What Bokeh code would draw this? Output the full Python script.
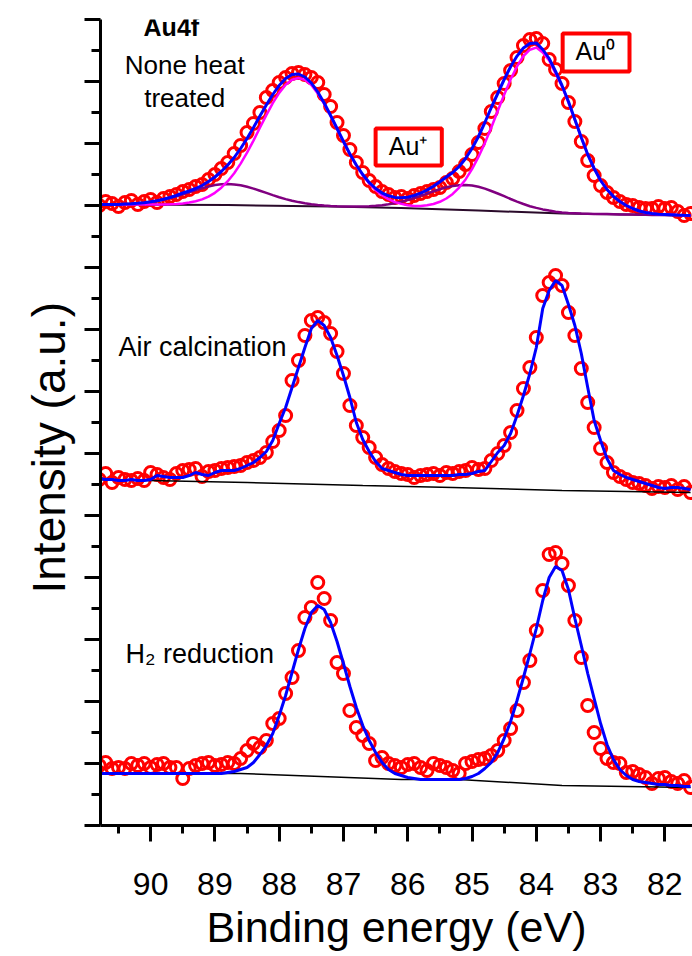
from bokeh.plotting import figure
from bokeh.models import Range1d, FixedTicker, Label, BoxAnnotation, Title
from bokeh.embed import file_html
from bokeh.resources import INLINE

# Binding energy grid (eV)
be = [90.8, 90.7, 90.6, 90.5, 90.4, 90.3, 90.2, 90.1, 90.0, 89.9,
      89.8, 89.7, 89.6, 89.5, 89.4, 89.3, 89.2, 89.1, 89.0, 88.9,
      88.8, 88.7, 88.6, 88.5, 88.4, 88.3, 88.2, 88.1, 88.0, 87.9,
      87.8, 87.7, 87.6, 87.5, 87.4, 87.3, 87.2, 87.1, 87.0, 86.9,
      86.8, 86.7, 86.6, 86.5, 86.4, 86.3, 86.2, 86.1, 86.0, 85.9,
      85.8, 85.7, 85.6, 85.5, 85.4, 85.3, 85.2, 85.1, 85.0, 84.9,
      84.8, 84.7, 84.6, 84.5, 84.4, 84.3, 84.2, 84.1, 84.0, 83.9,
      83.8, 83.7, 83.6, 83.5, 83.4, 83.3, 83.2, 83.1, 83.0, 82.9,
      82.8, 82.7, 82.6, 82.5, 82.4, 82.3, 82.2, 82.1, 82.0, 81.9,
      81.8, 81.7, 81.6]

# --- None heat treated (top, stacked intensity, a.u.) ---
none_data = [620, 624, 622, 619, 623, 625, 621, 624, 626, 623,
             627, 629, 631, 634, 636, 639, 641, 646, 651, 657,
             663, 672, 680, 693, 702, 713, 728, 735, 743, 748,
             752, 753, 751, 748, 743, 731, 719, 703, 690, 676,
             663, 653, 645, 639, 634, 631, 628, 629, 627, 630,
             632, 634, 636, 638, 643, 647, 654, 661, 671, 683,
             697, 714, 728, 742, 755, 768, 780, 786, 787, 782,
             766, 756, 742, 723, 704, 684, 665, 650, 640, 633,
             628, 624, 621, 620, 618, 617, 617, 619, 617, 618,
             614, 610, 612]
none_fit = [621, 621, 621, 621, 621.5, 621.7, 622.2, 622.8, 623.7, 624.8,
            626.2, 628, 630, 632.5, 634.5, 637, 640, 644, 648.5, 654,
            660.5, 668, 677, 687, 698, 709.5, 720.5, 731, 740, 747,
            751, 751.5, 748.5, 742.5, 733.5, 722.5, 710, 697, 684, 671.5,
            660.5, 651, 643, 637, 632.5, 629.7, 628.1, 627.8, 628.3, 630,
            632.3, 635.4, 639.2, 643.7, 648.5, 653, 659, 667, 677, 689,
            703, 718, 732, 746, 758.7, 769.4, 777.6, 782, 782.6, 776,
            767, 754, 740, 724, 706, 688, 671, 657, 645, 636,
            629, 624, 620, 617, 614.5, 613, 612, 611.3, 611, 610.7,
            610.4, 610.2, 610.1]
none_au0 = [621, 621, 621, 621, 621, 621, 621, 621, 621, 621,
            621, 621.2, 621.5, 622, 623, 624.3, 626.1, 628.9, 632.7, 637.8,
            644.3, 652.3, 661.9, 672.8, 684.9, 697.7, 710.4, 722.3, 732.6, 740.7,
            745.8, 747.5, 745.6, 740.4, 732.1, 721.6, 709.5, 696.6, 683.5, 671.2,
            660.1, 650.3, 642, 635.4, 630.2, 626.3, 623.4, 621.6, 620.2, 619.6,
            619.6, 620.2, 621.5, 623.7, 627, 631.6, 637.9, 646.1, 656.3, 668.6,
            682.6, 698, 714.5, 730.8, 746, 759.1, 769.5, 775.8, 777.9, 773,
            765, 752, 739, 723, 705.5, 688, 671, 657, 645, 636,
            629, 624, 620, 617, 614.5, 613, 612, 611.3, 611, 610.7,
            610.4, 610.2, 610.1]
none_au1 = [621, 621, 621, 621.3, 621.5, 621.7, 622.2, 622.8, 623.6, 624.6,
            625.9, 627.5, 629.2, 631.2, 633.3, 635.4, 637.3, 639, 640.4, 641.2,
            641.5, 641.1, 640.2, 638.7, 636.9, 634.8, 632.6, 630.4, 628.3, 626.4,
            624.8, 623.4, 622.2, 621.3, 620.6, 620, 619.6, 619.3, 619.1, 618.9,
            619, 619.1, 619.3, 619.7, 620.3, 621.2, 622.3, 623.7, 625.4, 627.4,
            629.6, 631.9, 634.2, 636.3, 638.2, 639.5, 640.3, 640.4, 639.9, 638.7,
            636.9, 634.5, 632, 629.3, 626.5, 623.9, 621.5, 619.3, 617.6, 616.1,
            614.9, 613.8, 613.1, 612.6, 612.3, 612, 611.8, 611.6, 611.5, 611.4,
            611.3, 611.1, 611, 610.9, 610.8, 610.7, 610.6, 610.5, 610.4, 610.3,
            610.2, 610.1, 610]
none_bg_x = [90.8, 88.8, 87.2, 86.1, 84.9, 83.6, 81.6]
none_bg_y = [621, 620.5, 619, 617.5, 615, 612, 610]

# --- Air calcination (middle) ---
air_data = [346, 352, 343, 348, 346, 345, 347, 345, 353, 351,
            348, 346, 352, 355, 356, 357, 349, 354, 355, 357,
            358, 359, 360, 363, 365, 368, 373, 384, 395, 410,
            445, 465, 490, 505, 508, 503, 492, 474, 452, 420,
            400, 388, 378, 368, 361, 357, 354, 352, 351, 348,
            350, 351, 352, 350, 353, 352, 354, 355, 358, 356,
            357, 365, 372, 380, 393, 415, 437, 458, 488, 530,
            543, 550, 540, 513, 490, 457, 423, 398, 377, 363,
            353, 349, 346, 343, 342, 340, 337, 339, 338, 340,
            336, 339, 333]
air_fit = [347, 346, 346, 345, 345, 346, 345, 345, 346, 350,
           349, 348, 348, 348, 350, 353, 351, 350, 353, 355,
           355, 355, 357, 360, 363, 368, 374, 385, 402, 418,
           438, 458, 478, 497, 505, 500, 488, 470, 450, 428,
           403, 386, 374, 364, 357, 355, 353, 351, 350, 350,
           350, 350, 350, 350, 350, 350, 351, 351, 352, 354,
           355, 364, 373, 380, 392, 410, 430, 452, 478, 517,
           535, 545, 540, 521, 500, 472, 438, 405, 385, 367,
           355, 351, 348, 346, 344, 342, 340, 338, 337, 338,
           338, 337, 336]
air_bg_x = [90.8, 88.5, 86.7, 85.3, 83.6, 81.6]
air_bg_y = [346, 343, 340, 338, 335, 333]

# --- H2 reduction (bottom) ---
h2_data = [60, 63, 57, 58, 57, 62, 60, 62, 58, 61,
           62, 58, 58, 47, 57, 60, 62, 63, 60, 61,
           63, 62, 67, 75, 82, 78, 85, 102, 107, 132,
           148, 175, 208, 218, 243, 227, 205, 163, 152, 115,
           98, 90, 82, 65, 68, 62, 60, 58, 61, 62,
           58, 55, 62, 60, 58, 55, 52, 62, 64, 66,
           67, 70, 75, 85, 97, 115, 143, 165, 195, 235,
           271, 273, 262, 240, 205, 168, 120, 93, 77, 67,
           63, 62, 53, 54, 51, 48, 42, 47, 48, 44,
           42, 45, 38]
h2_fit = [52, 52, 52, 52, 52, 52, 52, 52, 52, 52,
          52, 52, 52, 52, 52, 52, 52, 52, 52, 52,
          53, 54, 56, 58, 63, 71, 80, 92, 110, 130,
          153, 176, 197, 213, 220, 216, 203, 184, 162, 139,
          118, 100, 85, 73, 63, 56, 52, 50, 48, 47,
          46, 46, 46, 46, 46, 46, 46, 47, 49, 52,
          57, 63, 73, 87, 104, 125, 148, 172, 197, 225,
          248, 259, 255, 236, 207, 180, 152, 127, 102, 81,
          66, 56, 50, 46, 44, 43, 42, 41, 41, 40,
          40, 39, 39]
h2_bg_x = [90.8, 88.6, 86.1, 85.2, 83.6, 81.6]
h2_bg_y = [52, 52, 46, 46, 40, 38]

x_major = [82, 83, 84, 85, 86, 87, 88, 89, 90]
x_minor = [81.5, 82.5, 83.5, 84.5, 85.5, 86.5, 87.5, 88.5, 89.5, 90.5]
y_major = [0, 62, 124, 186, 248, 310, 372, 434, 496, 558, 620, 682, 744, 806]
y_minor = [31, 93, 155, 217, 279, 341, 403, 465, 527, 589, 651, 713, 775]

FONT = "Liberation Sans"

p = figure(width=692, height=956,
           x_range=Range1d(90.78, 81.57), y_range=Range1d(0, 806),
           output_backend="svg", toolbar_location=None,
           min_border_left=100, min_border_right=0,
           min_border_top=19, min_border_bottom=131,
           background_fill_color="white", border_fill_color="white")
p.outline_line_color = None
p.xgrid.visible = False
p.ygrid.visible = False

# axes
xa = p.xaxis[0]
xa.ticker = FixedTicker(ticks=x_major, minor_ticks=x_minor)
xa.axis_line_width = 3
xa.major_tick_line_width = 3
xa.minor_tick_line_width = 3
xa.major_tick_out = 16
xa.major_tick_in = 0
xa.minor_tick_out = 8
xa.minor_tick_in = 0
xa.major_label_text_font = FONT
xa.major_label_text_font_size = "32px"
xa.major_label_text_color = "black"
xa.major_label_standoff = 31
xa.axis_label = "Binding energy (eV)"
xa.axis_label_text_font = FONT
xa.axis_label_text_font_size = "43px"
xa.axis_label_text_font_style = "normal"
xa.axis_label_text_color = "black"
xa.axis_label_standoff = 5

ya = p.yaxis[0]
ya.ticker = FixedTicker(ticks=y_major, minor_ticks=y_minor)
ya.axis_line_width = 3
ya.major_tick_line_width = 3
ya.minor_tick_line_width = 3
ya.major_tick_out = 16
ya.major_tick_in = 0
ya.minor_tick_out = 9
ya.minor_tick_in = 0
ya.major_label_text_font_size = "0px"
ya.major_label_text_color = None
ya.major_label_standoff = 0

# y-axis title in the left panel, shifted down along the axis as in the reference
p.add_layout(Title(text="Intensity (a.u.)", align="left", offset=232,
                   standoff=20, text_line_height=0.7, text_font=FONT,
                   text_font_size="46px", text_font_style="normal",
                   text_color="black"), "left")

# data circles
for d in (none_data, air_data, h2_data):
    p.scatter(be, d, marker="circle", size=12, line_color="#ff0000",
              line_width=3, fill_color=None)

# backgrounds
p.line(none_bg_x, none_bg_y, line_color="#2a0a2a", line_width=2)
p.line(air_bg_x, air_bg_y, line_color="black", line_width=1.5)
p.line(h2_bg_x, h2_bg_y, line_color="black", line_width=1.5)

# components
p.line(be, none_au1, line_color="#800080", line_width=2.5)
p.line(be, none_au0, line_color="#ff00ff", line_width=2.5)

# envelopes
for f in (none_fit, air_fit, h2_fit):
    p.line(be, f, line_color="#0000ff", line_width=3)

# texts
def lab(x, y, t, size, align="left", bold=False):
    p.add_layout(Label(x=x, y=y, text=t, text_font=FONT, text_font_size=size,
                       text_font_style="bold" if bold else "normal",
                       text_color="black", text_align=align,
                       text_baseline="alphabetic"))

lab(90.11, 799, "Au4f", "25px", bold=True)
lab(89.47, 760.5, "None heat", "26px", align="center")
lab(89.47, 728, "treated", "26px", align="center")
lab(90.50, 479, "Air calcination", "27px")
lab(90.39, 172, "H\u2082 reduction", "27px")

p.add_layout(BoxAnnotation(left=86.50, right=85.47, bottom=660, top=697,
                           fill_alpha=0, line_color="#ff0000", line_width=4,
                           line_alpha=1))
lab(86.295, 679.5, "Au\u207a", "25px")
p.add_layout(BoxAnnotation(left=83.59, right=82.55, bottom=754, top=792,
                           fill_alpha=0, line_color="#ff0000", line_width=4,
                           line_alpha=1))
lab(83.39, 774.5, "Au\u2070", "25px")

open("out.html", "w").write(file_html(p, INLINE))
